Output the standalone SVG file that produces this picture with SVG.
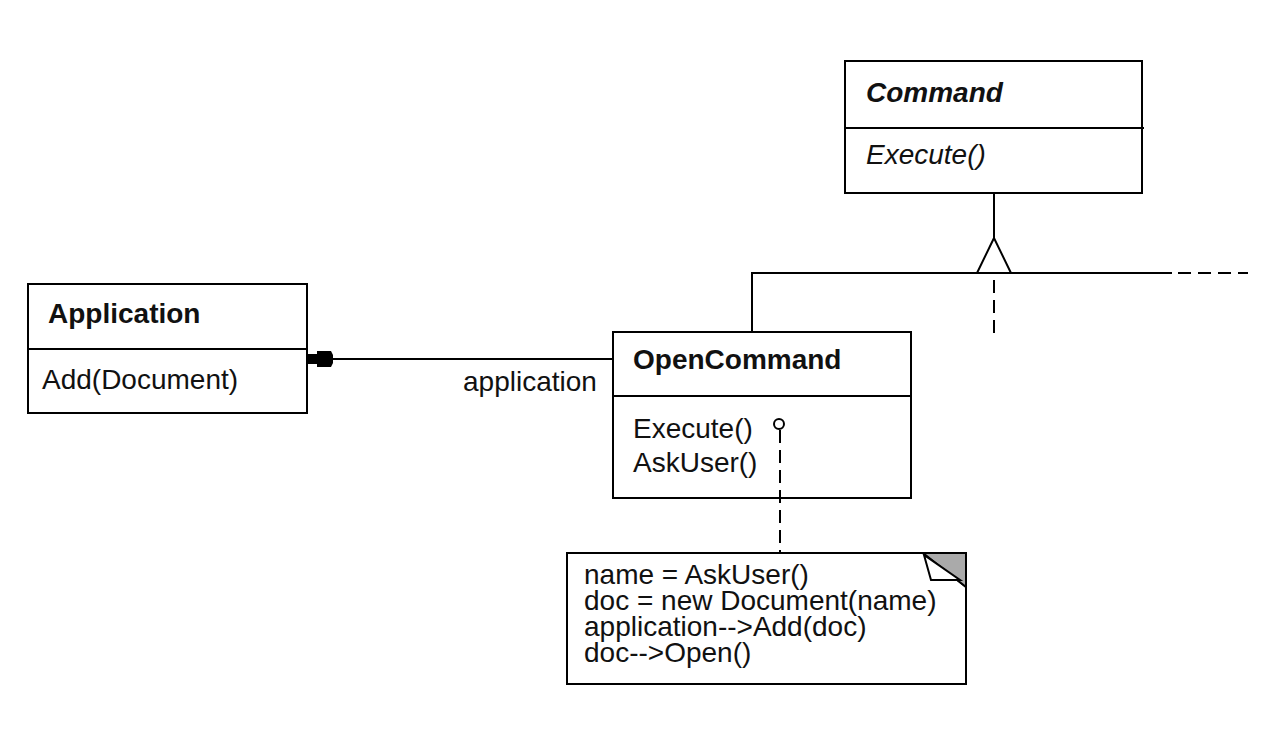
<svg xmlns="http://www.w3.org/2000/svg" width="1282" height="746" viewBox="0 0 1282 746">
<style>
  .box { fill: #fff; stroke: #000; stroke-width: 2; }
  .ln { fill: none; stroke: #000; stroke-width: 2; }
  .dash { fill: none; stroke: #000; stroke-width: 2; stroke-dasharray: 13 7; }
  text { font-family: "Liberation Sans", Arial, sans-serif; font-size: 28px; fill: #111; }
  .b { font-weight: bold; }
  .i { font-style: italic; }
</style>
<rect width="1282" height="746" fill="#fff"/>
<g id="command">
  <rect class="box" x="845" y="61" width="297" height="132"/>
  <line class="ln" x1="845" y1="128" x2="1144" y2="128"/>
  <text class="b i" x="866" y="102">Command</text>
  <text class="i" x="866" y="164">Execute()</text>
</g>
<g id="application">
  <rect class="box" x="28" y="284" width="279" height="129"/>
  <line class="ln" x1="28" y1="349" x2="307" y2="349"/>
  <text class="b" x="48" y="323">Application</text>
  <text x="42" y="389">Add(Document)</text>
</g>
<g id="opencommand">
  <rect class="box" x="613" y="332" width="298" height="166"/>
  <line class="ln" x1="613" y1="396" x2="911" y2="396"/>
  <text class="b" x="633" y="369">OpenCommand</text>
  <text x="633" y="438">Execute()</text>
  <text x="633" y="472">AskUser()</text>
</g>
<g id="note">
  <polygon class="box" points="567,553 923,553 966,587 966,684 567,684"/>
  <polygon points="923,553 966,553 966,587" fill="#aaa" stroke="#000" stroke-width="2"/>
  <polygon points="924,555 931,580 960,580" fill="#fff" stroke="#000" stroke-width="2"/>
  <text x="584" y="584">name = AskUser()</text>
  <text x="584" y="610">doc = new Document(name)</text>
  <text x="584" y="636">application--&gt;Add(doc)</text>
  <text x="584" y="662">doc--&gt;Open()</text>
</g>
<g id="connectors">
  <!-- generalization -->
  <line class="ln" x1="994" y1="193" x2="994" y2="238"/>
  <polygon class="ln" points="994,238 977,273 1011,273"/>
  <polyline class="ln" points="752,332 752,273 1172,273"/>
  <line class="dash" x1="1178" y1="273" x2="1248" y2="273"/>
  <line class="dash" x1="994" y1="280" x2="994" y2="334"/>
  <!-- association to Application -->
  <line class="ln" x1="612" y1="359" x2="330" y2="359"/>
  <polygon points="307,354 317,354 317,351 331,351 333,355 333,363 331,367 317,367 317,364 307,364" fill="#000"/>
  <text x="463" y="391">application</text>
  <!-- note link -->
  <line class="dash" x1="780" y1="430" x2="780" y2="553" stroke-dasharray="13 8"/>
  <circle cx="779" cy="424" r="5" fill="#fff" stroke="#000" stroke-width="2"/>
</g>
</svg>
